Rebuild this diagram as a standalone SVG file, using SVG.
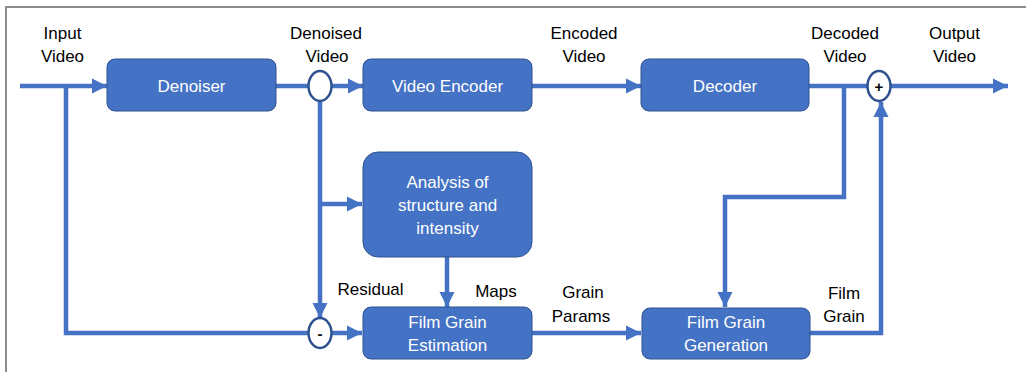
<svg xmlns="http://www.w3.org/2000/svg" width="1026" height="372" viewBox="0 0 1026 372">
<style>
.box{fill:#4472C4;stroke:#2F528F;stroke-width:1}
.bt{font-family:"Liberation Sans",Arial,sans-serif;font-size:17px;fill:#ffffff;text-anchor:middle}
.lb{font-family:"Liberation Sans",Arial,sans-serif;font-size:17px;fill:#000000;text-anchor:middle}
.ln{fill:none;stroke:#4472C4;stroke-width:4.5}
.cir{fill:#ffffff;stroke:#2F528F;stroke-width:2.5}
.sym{font-family:"Liberation Sans",Arial,sans-serif;font-size:15px;font-weight:bold;fill:#000000;text-anchor:middle}
.frame{fill:none;stroke:#8c8c8c;stroke-width:2}
</style>
<defs>
<marker id="ah" markerUnits="userSpaceOnUse" markerWidth="16" markerHeight="16" viewBox="0 0 16 16" refX="15" refY="8" orient="auto">
<path d="M0,0.5 L15,8 L0,15.5 Z" fill="#4472C4"/>
</marker>
</defs>
<rect width="1026" height="372" fill="#ffffff"/>
<path class="frame" d="M6,372 V7 H1026"/>

<g id="connectors">
<line class="ln" x1="20" y1="86" x2="107" y2="86" marker-end="url(#ah)"/>
<line class="ln" x1="276" y1="86" x2="308" y2="86"/>
<line class="ln" x1="332" y1="86" x2="363" y2="86" marker-end="url(#ah)"/>
<line class="ln" x1="532" y1="86" x2="641" y2="86" marker-end="url(#ah)"/>
<line class="ln" x1="809" y1="86" x2="868" y2="86"/>
<line class="ln" x1="891" y1="86" x2="1008" y2="86" marker-end="url(#ah)"/>
<polyline class="ln" points="66,86 66,333 308,333"/>
<line class="ln" x1="320" y1="101" x2="320" y2="318" marker-end="url(#ah)"/>
<line class="ln" x1="320" y1="204" x2="362" y2="204" marker-end="url(#ah)"/>
<line class="ln" x1="447" y1="257" x2="447" y2="307" marker-end="url(#ah)"/>
<line class="ln" x1="332" y1="333" x2="362" y2="333" marker-end="url(#ah)"/>
<line class="ln" x1="532" y1="333" x2="641" y2="333" marker-end="url(#ah)"/>
<polyline class="ln" points="844,86 844,197 725,197 725,307" marker-end="url(#ah)"/>
<polyline class="ln" points="810,333 881,333 881,102" marker-end="url(#ah)"/>
</g>

<g id="denoiser">
<rect class="box" x="107" y="59" width="169" height="52" rx="8"/>
<text class="bt" x="191.5" y="92">Denoiser</text>
</g>
<g id="video-encoder">
<rect class="box" x="363" y="59" width="169" height="52" rx="8"/>
<text class="bt" x="447.5" y="92">Video Encoder</text>
</g>
<g id="decoder">
<rect class="box" x="641" y="59" width="168" height="52" rx="8"/>
<text class="bt" x="725" y="92">Decoder</text>
</g>
<g id="analysis">
<rect class="box" x="363" y="152" width="169" height="105" rx="15"/>
<text class="bt" x="447.5" y="188">Analysis of</text>
<text class="bt" x="447.5" y="211">structure and</text>
<text class="bt" x="447.5" y="234">intensity</text>
</g>
<g id="film-grain-estimation">
<rect class="box" x="363" y="307" width="169" height="52" rx="8"/>
<text class="bt" x="447.5" y="328">Film Grain</text>
<text class="bt" x="447.5" y="351">Estimation</text>
</g>
<g id="film-grain-generation">
<rect class="box" x="642" y="308" width="168" height="51" rx="8"/>
<text class="bt" x="726" y="328">Film Grain</text>
<text class="bt" x="726" y="351">Generation</text>
</g>
<g id="split">
<ellipse class="cir" cx="320" cy="86" rx="11.5" ry="15"/>
</g>
<g id="subtract">
<ellipse class="cir" cx="320" cy="333" rx="11.5" ry="15"/>
<text class="sym" x="320" y="339">-</text>
</g>
<g id="add">
<ellipse class="cir" cx="879" cy="86" rx="11.5" ry="15"/>
<text class="sym" x="879" y="91.5">+</text>
</g>

<g id="labels">
<text class="lb" x="62.5" y="39">Input</text>
<text class="lb" x="62.5" y="62">Video</text>
<text class="lb" x="326" y="39">Denoised</text>
<text class="lb" x="327" y="62">Video</text>
<text class="lb" x="584" y="39">Encoded</text>
<text class="lb" x="584" y="62">Video</text>
<text class="lb" x="845" y="39">Decoded</text>
<text class="lb" x="845" y="62">Video</text>
<text class="lb" x="954.5" y="39">Output</text>
<text class="lb" x="954.5" y="62">Video</text>
<text class="lb" x="370.5" y="295">Residual</text>
<text class="lb" x="496" y="297">Maps</text>
<text class="lb" x="583" y="298">Grain</text>
<text class="lb" x="581" y="322">Params</text>
<text class="lb" x="844" y="299">Film</text>
<text class="lb" x="844" y="322">Grain</text>
</g>
</svg>
